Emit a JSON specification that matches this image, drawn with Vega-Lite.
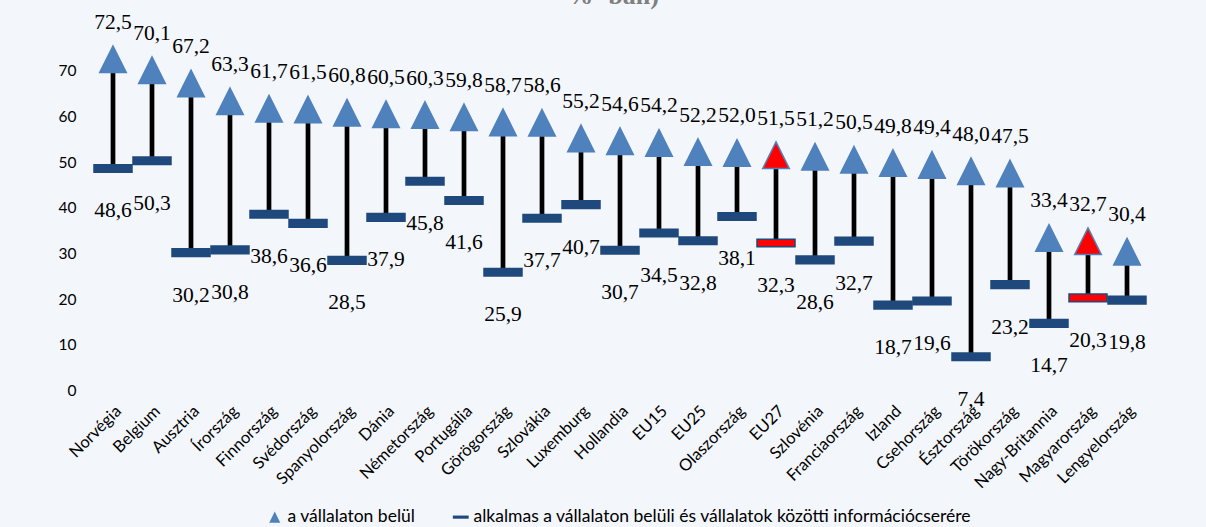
{
  "$schema": "https://vega.github.io/schema/vega-lite/v6.json",
  "autosize": {"type": "none"},
  "padding": {"left": 93.5, "top": 25, "right": 59.5, "bottom": 136.4},
  "width": 1053,
  "height": 365.6,
  "background": "#F3F6FB",
  "config": {
    "view": {"stroke": null},
    "locale": {"number": {"decimal": ",", "thousands": " ", "grouping": [3], "currency": ["", " €"]}},
    "legend": {
      "orient": "none",
      "legendX": 172.5,
      "legendY": 483,
      "direction": "horizontal",
      "padding": 0,
      "title": null,
      "labelFont": "Lato",
      "labelFontSize": 17.5,
      "labelColor": "#000000",
      "labelLimit": 0,
      "symbolSize": 250,
      "symbolStrokeWidth": 0,
      "columnPadding": 36,
      "labelOffset": 4
    }
  },
  "title": {
    "text": "% -ban)",
    "font": "Liberation Serif",
    "fontSize": 26,
    "fontWeight": "bold",
    "color": "#7F7F7F",
    "anchor": "middle",
    "frame": "group",
    "baseline": "alphabetic",
    "offset": 19,
    "dx": -7,
    "dy": 37
  },
  "data": {
    "values": [
      {"country": "Norvégia", "high": 72.5, "low": 48.6},
      {"country": "Belgium", "high": 70.1, "low": 50.3},
      {"country": "Ausztria", "high": 67.2, "low": 30.2},
      {"country": "Írország", "high": 63.3, "low": 30.8},
      {"country": "Finnország", "high": 61.7, "low": 38.6},
      {"country": "Svédország", "high": 61.5, "low": 36.6},
      {"country": "Spanyolország", "high": 60.8, "low": 28.5},
      {"country": "Dánia", "high": 60.5, "low": 37.9},
      {"country": "Németország", "high": 60.3, "low": 45.8},
      {"country": "Portugália", "high": 59.8, "low": 41.6},
      {"country": "Görögország", "high": 58.7, "low": 25.9},
      {"country": "Szlovákia", "high": 58.6, "low": 37.7},
      {"country": "Luxemburg", "high": 55.2, "low": 40.7},
      {"country": "Hollandia", "high": 54.6, "low": 30.7},
      {"country": "EU15", "high": 54.2, "low": 34.5},
      {"country": "EU25", "high": 52.2, "low": 32.8},
      {"country": "Olaszország", "high": 52.0, "low": 38.1},
      {"country": "EU27", "high": 51.5, "low": 32.3},
      {"country": "Szlovénia", "high": 51.2, "low": 28.6},
      {"country": "Franciaország", "high": 50.5, "low": 32.7},
      {"country": "Izland", "high": 49.8, "low": 18.7},
      {"country": "Csehország", "high": 49.4, "low": 19.6},
      {"country": "Észtország", "high": 48.0, "low": 7.4},
      {"country": "Törökország", "high": 47.5, "low": 23.2},
      {"country": "Nagy-Britannia", "high": 33.4, "low": 14.7},
      {"country": "Magyarország", "high": 32.7, "low": 20.3},
      {"country": "Lengyelország", "high": 30.4, "low": 19.8}
    ]
  },
  "encoding": {
    "x": {
      "field": "country",
      "type": "nominal",
      "sort": null,
      "scale": {"paddingInner": 0, "paddingOuter": 0},
      "axis": {
        "title": null,
        "labelAngle": -45,
        "labelFont": "Lato",
        "labelFontSize": 16.5,
        "labelColor": "#000000",
        "ticks": false,
        "domain": false,
        "grid": false,
        "labelPadding": 12
      }
    }
  },
  "layer": [
    {
      "mark": {"type": "rule", "color": "#000000", "strokeWidth": 4.7},
      "encoding": {
        "y": {
          "field": "low",
          "type": "quantitative",
          "scale": {"domain": [0, 80], "nice": false},
          "axis": {
            "title": null,
            "values": [0, 10, 20, 30, 40, 50, 60, 70],
            "labelFont": "Lato",
            "labelFontSize": 15.5,
            "labelColor": "#000000",
            "ticks": false,
            "domain": false,
            "grid": false,
            "labelPadding": 17.5
          }
        },
        "y2": {"field": "high"}
      }
    },
    {
      "transform": [{"fold": ["high", "low"], "as": ["series", "value"]}],
      "mark": {"type": "point", "filled": true, "opacity": 1, "strokeWidth": 1.5},
      "encoding": {
        "y": {"field": "value", "type": "quantitative", "title": null},
        "shape": {
          "field": "series",
          "type": "nominal",
          "scale": {"domain": ["high", "low"], "range": ["M0,-0.7L0.7,0.7L-0.7,0.7Z", "M-1,-0.2L1,-0.2L1,0.2L-1,0.2Z"]},
          "legend": {"labelExpr": "datum.value === 'high' ? 'a vállalaton belül' : 'alkalmas a vállalaton belüli és vállalatok közötti  információcserére'"}
        },
        "fill": {
          "condition": {"test": "datum.country === 'EU27' || datum.country === 'Magyarország'", "value": "#FF0000"},
          "field": "series",
          "type": "nominal",
          "scale": {"domain": ["high", "low"], "range": ["#4F81BD", "#1F497D"]},
          "legend": {"labelExpr": "datum.value === 'high' ? 'a vállalaton belül' : 'alkalmas a vállalaton belüli és vállalatok közötti  információcserére'"}
        },
        "stroke": {
          "field": "series",
          "type": "nominal",
          "scale": {"domain": ["high", "low"], "range": ["#4F81BD", "#1F497D"]},
          "legend": null
        },
        "size": {"value": 1444}
      }
    },
    {
      "mark": {"type": "text", "dy": -36.5, "font": "Liberation Serif", "fontSize": 21.5, "fill": "#000000", "baseline": "middle"},
      "encoding": {
        "y": {"field": "high", "type": "quantitative"},
        "text": {"field": "high", "type": "quantitative", "format": ".1f"}
      }
    },
    {
      "mark": {"type": "text", "dy": 43, "font": "Liberation Serif", "fontSize": 21.5, "fill": "#000000", "baseline": "middle"},
      "encoding": {
        "y": {"field": "low", "type": "quantitative"},
        "text": {"field": "low", "type": "quantitative", "format": ".1f"}
      }
    }
  ]
}
